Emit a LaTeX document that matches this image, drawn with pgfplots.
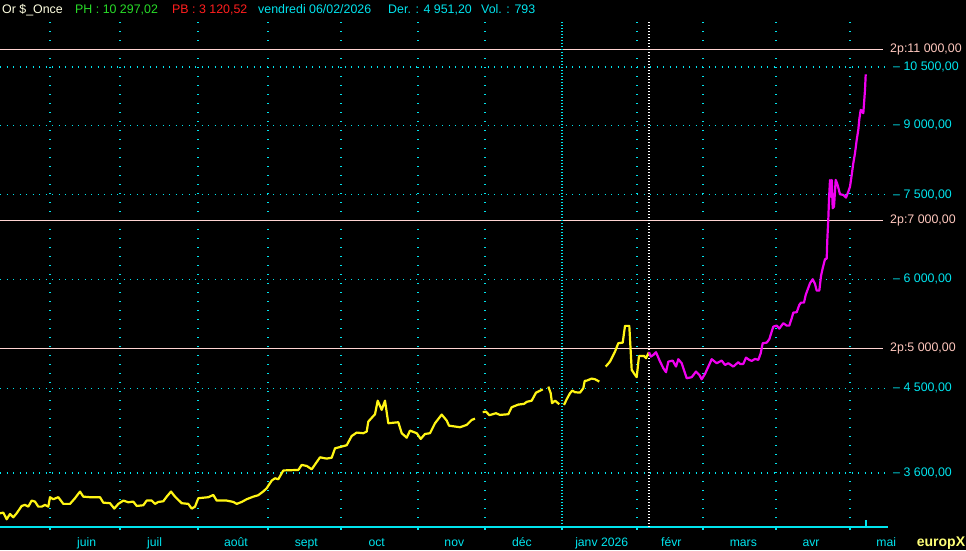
\documentclass[border=0pt]{standalone}
\usepackage{pgfplots}
\pgfplotsset{compat=1.18}
\usepackage{fontspec}
\setmainfont{Liberation Sans}
\definecolor{bgk}{RGB}{0,0,0}
\definecolor{cy}{RGB}{0,228,238}
\definecolor{yl}{RGB}{255,245,20}
\definecolor{mg}{RGB}{240,0,240}
\definecolor{pk}{RGB}{255,212,210}
\definecolor{pkt}{RGB}{255,200,190}
\definecolor{hdw}{RGB}{255,255,225}
\definecolor{hdg}{RGB}{40,220,40}
\definecolor{hdr}{RGB}{255,30,30}
\definecolor{eux}{RGB}{255,255,120}
\pgfplotstableread{
x y
0 3238
3.3 3243
6.7 3187
10 3232
13.3 3204
16.7 3238
21.7 3301
25 3310
28.3 3295
31.7 3348
35 3339
38.3 3295
41.7 3295
45 3310
48.3 3295
50 3378
53.3 3360
58.3 3378
63.3 3319
70 3319
75 3369
80 3428
83.3 3383
90 3378
100 3378
103.3 3330
110 3325
114.3 3278
118.3 3319
123.3 3348
128.3 3333
133.3 3339
136.7 3301
143.3 3307
146.7 3348
151.7 3348
155 3319
158.3 3336
163.3 3342
166.7 3383
171 3428
175 3383
181.7 3325
188.3 3319
191.7 3278
195 3295
198.3 3369
208.3 3378
213.3 3398
216.7 3348
226.7 3348
233.3 3336
236.7 3319
241.7 3336
246.7 3360
253.3 3383
258.3 3396
263.3 3430
266.7 3459
271.7 3529
275 3551
278.3 3542
283.3 3625
298.3 3630
301.7 3678
306.7 3668
311.7 3636
320 3753
326.7 3740
331.7 3749
335 3843
346.7 3874
351.7 3970
356.7 4005
363.3 3999
366.7 4016
368.3 4123
375 4204
377.7 4357
381.7 4252
385 4357
388.3 4105
398.3 4116
401.7 3999
406.7 3952
410 4026
416.7 3999
420.7 3939
425 3991
430 3999
435 4105
441.7 4200
446.7 4134
449 4079
460 4062
466.7 4087
471.7 4141
475 4155
478 nan
482.7 4226
486 4233
489.3 4193
496 4215
500 4196
508.3 4204
511.7 4282
518.3 4312
524 4320
526.7 4343
531.7 4357
536 4450
541.7 4482
542.7 4490
545 nan
548.3 4521
550.7 4443
552 4328
555 4357
559.3 4316
562 nan
564 4308
566.7 4373
570 4443
572.3 4474
575 4455
580 4450
583.3 4502
584.7 4590
586.7 4593
591.7 4618
595 4610
599.3 4581
602 nan
605.7 4766
610 4829
615 4958
618.3 5069
622.7 5077
625 5306
629.3 5306
631.7 4725
635 4663
636.7 4635
639 4902
644 4902
646 4873
649 4951
}\yellowdata
\pgfplotstableread{
x y
649 4951
650.7 4893
653.3 4915
656 4950
659.3 4851
663.3 4746
666 4696
668.3 4829
672.7 4842
676 4766
678.3 4860
681.7 4809
686.7 4622
691.7 4635
696 4704
699.3 4663
701.7 4610
705 4675
711.7 4860
716.7 4809
721.7 4842
725 4787
728.3 4809
733.3 4766
738.3 4822
740 4800
743.3 4800
746 4880
749.3 4851
751.7 4838
755 4864
758.3 4851
760.7 4937
762.7 5069
766.7 5077
769.3 5123
771.7 5227
773.3 5296
776.7 5310
779.3 5268
783.3 5344
786.7 5310
789.3 5310
791.7 5415
793.3 5495
796.7 5501
799.3 5608
801 5642
804 5642
805.7 5758
810 5938
812.7 6001
815 5927
816.7 5823
819.3 5823
821 6053
822.7 6178
825 6326
826.7 6336
827.3 6656
828.3 7030
829 7410
830 7797
830.7 7461
831.7 7797
832.7 7236
834 7267
835.7 7797
837.3 7715
840 7508
843.3 7494
846 7442
848.3 7560
850 7661
851.7 7900
853.3 8148
855 8365
856.7 8664
858.3 8896
859.3 9150
860.7 9377
863.3 9296
865 9885
865.7 10297
}\magentadata
\begin{document}
\begin{tikzpicture}[x=1pt,y=1pt]
\fill[bgk] (0,0) rectangle (966,550);
\begin{axis}[
  at={(0pt,23pt)}, anchor=south west,
  scale only axis, width=888pt, height=505pt,
  xmin=0, xmax=888, ymin=3123, ymax=11823,
  ymode=log,
  axis x line=bottom, axis y line=right,
  x axis line style={cy, line width=1.2pt, -},
  y axis line style={draw=none},
  clip=false,
  unbounded coords=jump,
  xtick={50,120,198,268,341,418,485,562,637,703,776,850},
  xticklabels={},
  x tick style={cy, line width=1.2pt},
  tick align=outside, major tick length=3pt,
  extra x ticks={86.7,154.7,236,306.3,376.7,454.3,522,601.7,671.3,743.3,811,886.3},
  extra x tick labels={juin,juil,août,sept,oct,nov,déc,janv 2026,févr,mars,avr,mai},
  extra x tick style={grid=none, major tick length=0pt,
    xticklabel style={anchor=base, yshift=-19.5pt}},
  xticklabel style={text=cy, font=\fontsize{12.2}{14}\selectfont, inner sep=0pt},
  ytick={3600,4500,6000,7500,9000,10500},
  yticklabels={{– 3 600,00},{– 4 500,00},{– 6 000,00},{– 7 500,00},{– 9 000,00},{– 10 500,00}},
  y tick style={draw=none},
  yticklabel style={text=cy, font=\fontsize{12.4}{14}\selectfont, inner sep=0pt, anchor=west, xshift=2pt},
  xmajorgrids, ymajorgrids,
  x grid style={cy, line width=1.4pt, dash pattern=on 1.4pt off 7.6pt},
  y grid style={cy, line width=1.4pt, dash pattern=on 1.4pt off 5.1pt},
]
\addplot[pk, line width=1pt] coordinates {(0,11000) (883,11000)};
\addplot[pk, line width=1pt] coordinates {(0,7000) (883,7000)};
\addplot[pk, line width=1pt] coordinates {(0,5000) (883,5000)};
\addplot[cy, line width=1.4pt, dash pattern=on 1.4pt off 1.6pt] coordinates {(562,3123) (562,11823)};
\addplot[white, line width=1.4pt, dash pattern=on 1.4pt off 1.6pt] coordinates {(649,3123) (649,11823)};
\addplot[cy, line width=1.2pt] coordinates {(866,3123) (866,3180)};
\addplot[yl, line width=2.2pt, line join=round] table[x=x,y=y] {\yellowdata};
\addplot[mg, line width=2.2pt, line join=round] table[x=x,y=y] {\magentadata};
\node[anchor=west, inner sep=0pt, text=pkt, font=\fontsize{12.4}{14}\selectfont] at (axis cs:890,11000) {2p:11 000,00};
\node[anchor=west, inner sep=0pt, text=pkt, font=\fontsize{12.4}{14}\selectfont] at (axis cs:890,7000) {2p:7 000,00};
\node[anchor=west, inner sep=0pt, text=pkt, font=\fontsize{12.4}{14}\selectfont] at (axis cs:890,5000) {2p:5 000,00};
\end{axis}
\begin{scope}[every node/.style={anchor=base west, inner sep=0pt, font=\fontsize{12.4}{15}\selectfont}]
\node[text=hdw] at (2,536) {Or \$\_Once};
\node[text=hdg] at (75,536) {PH : 10 297,02};
\node[text=hdr] at (172,536) {PB : 3 120,52};
\node[text=cy] at (258,536) {vendredi 06/02/2026};
\node[text=cy] at (388,536) {Der. : 4 951,20};
\node[text=cy] at (481,536) {Vol. : 793};
\end{scope}
\node[anchor=base, inner sep=0pt, text=eux, font=\fontsize{14}{16}\selectfont\bfseries] at (941,4) {europX};
\pgfresetboundingbox
\useasboundingbox (0,0) rectangle (966,550);
\end{tikzpicture}
\end{document}
